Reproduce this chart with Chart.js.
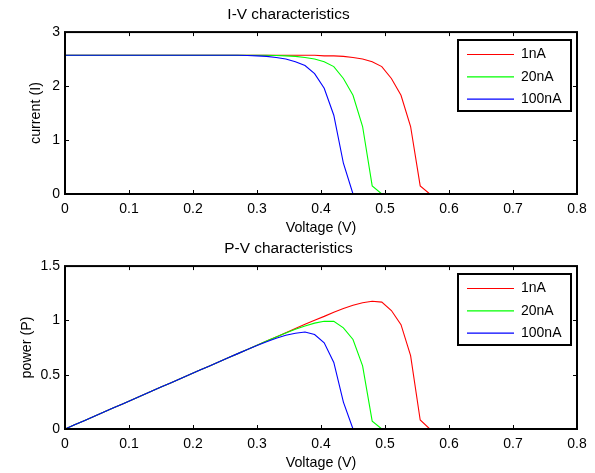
<!DOCTYPE html>
<html>
<head>
<meta charset="utf-8">
<script src="https://cdn.jsdelivr.net/npm/chart.js@4"></script>
<style>
  html, body { margin: 0; padding: 0; background: #fff; }
  #wrap { position: relative; width: 595px; height: 473px; overflow: hidden; }
  .panel { position: absolute; left: 0; width: 595px; }
</style>
</head>
<body>
<div id="wrap">
  <div class="panel" style="top:0;height:238px"><canvas id="ivChart"></canvas></div>
  <div class="panel" style="top:234px;height:239px"><canvas id="pvChart"></canvas></div>
</div>
<script>
// ---- data ----
const voltage = [0, 0.015, 0.03, 0.045, 0.06, 0.075, 0.09, 0.105, 0.12, 0.135,
  0.15, 0.165, 0.18, 0.195, 0.21, 0.225, 0.24, 0.255, 0.27, 0.285,
  0.3, 0.315, 0.33, 0.345, 0.36, 0.375, 0.39, 0.405, 0.42, 0.435,
  0.45, 0.465, 0.48, 0.495, 0.51, 0.525, 0.54, 0.555, 0.57, 0.585,
  0.6, 0.615, 0.63, 0.645, 0.66, 0.675, 0.69, 0.705, 0.72, 0.735, 0.75];

const seriesNames = ['1nA', '20nA', '100nA'];
const seriesColors = ['#ff0000', '#00ff00', '#0000ff'];

const current1nA = [2.57, 2.57, 2.57, 2.57, 2.57, 2.57, 2.57, 2.57, 2.57, 2.57,
  2.57, 2.57, 2.57, 2.57, 2.57, 2.57, 2.57, 2.57, 2.57, 2.57,
  2.57, 2.57, 2.57, 2.57, 2.57, 2.57, 2.57, 2.56, 2.56, 2.55,
  2.53, 2.50, 2.45, 2.36, 2.14, 1.83, 1.25, 0.15, 0, 0,
  0, 0, 0, 0, 0, 0, 0, 0, 0, 0, 0];
const current20nA = [2.57, 2.57, 2.57, 2.57, 2.57, 2.57, 2.57, 2.57, 2.57, 2.57,
  2.57, 2.57, 2.57, 2.57, 2.57, 2.57, 2.57, 2.57, 2.57, 2.57,
  2.57, 2.57, 2.565, 2.56, 2.55, 2.53, 2.50, 2.45, 2.36, 2.14,
  1.83, 1.25, 0.15, 0, 0, 0, 0, 0, 0, 0,
  0, 0, 0, 0, 0, 0, 0, 0, 0, 0, 0];
const current100nA = [2.57, 2.57, 2.57, 2.57, 2.57, 2.57, 2.57, 2.57, 2.57, 2.57,
  2.57, 2.57, 2.57, 2.57, 2.57, 2.57, 2.57, 2.57, 2.57, 2.565,
  2.56, 2.55, 2.53, 2.50, 2.45, 2.38, 2.23, 1.96, 1.46, 0.57,
  0, 0, 0, 0, 0, 0, 0, 0, 0, 0,
  0, 0, 0, 0, 0, 0, 0, 0, 0, 0, 0];

const power1nA = [0, 0.039, 0.077, 0.116, 0.154, 0.193, 0.231, 0.270, 0.308, 0.347,
  0.386, 0.424, 0.463, 0.501, 0.540, 0.578, 0.617, 0.655, 0.694, 0.732,
  0.771, 0.810, 0.848, 0.887, 0.925, 0.964, 1.002, 1.037, 1.075, 1.109,
  1.139, 1.163, 1.176, 1.168, 1.091, 0.961, 0.675, 0.083, 0, 0,
  0, 0, 0, 0, 0, 0, 0, 0, 0, 0, 0];
const power20nA = [0, 0.039, 0.077, 0.116, 0.154, 0.193, 0.231, 0.270, 0.308, 0.347,
  0.386, 0.424, 0.463, 0.501, 0.540, 0.578, 0.617, 0.655, 0.694, 0.732,
  0.771, 0.810, 0.846, 0.883, 0.918, 0.949, 0.975, 0.992, 0.991, 0.931,
  0.824, 0.581, 0.072, 0, 0, 0, 0, 0, 0, 0,
  0, 0, 0, 0, 0, 0, 0, 0, 0, 0, 0];
const power100nA = [0, 0.039, 0.077, 0.116, 0.154, 0.193, 0.231, 0.270, 0.308, 0.347,
  0.386, 0.424, 0.463, 0.501, 0.540, 0.578, 0.617, 0.655, 0.694, 0.731,
  0.768, 0.803, 0.835, 0.863, 0.882, 0.893, 0.870, 0.794, 0.613, 0.248,
  0, 0, 0, 0, 0, 0, 0, 0, 0, 0,
  0, 0, 0, 0, 0, 0, 0, 0, 0, 0, 0];

const xTickLabels = ['0', '0.1', '0.2', '0.3', '0.4', '0.5', '0.6', '0.7', '0.8'];
const ivTickLabels = ['0', '1', '2', '3'];
const pvTickLabels = ['0', '0.5', '1', '1.5'];

// ---- shared look ----
const FAMILY = '"Liberation Sans", Arial, Helvetica, sans-serif';
const FONT = { family: FAMILY, size: 14 };
const LABEL_FONT = { family: FAMILY, size: 14.3 };
const TITLE_FONT = { family: FAMILY, size: 15.4, weight: 'normal' };

// box round the axes, inward ticks on all four sides, legend inside top-right
const matlabAxes = {
  id: 'matlabAxes',
  afterDraw(chart) {
    const { ctx, chartArea: a, scales: { x, y } } = chart;
    ctx.save();
    ctx.strokeStyle = '#000';
    ctx.lineWidth = 1;
    ctx.beginPath();
    x.ticks.forEach(t => {
      const px = Math.round(x.getPixelForValue(t.value)) + 0.5;
      ctx.moveTo(px, a.top); ctx.lineTo(px, a.top + 4);
      ctx.moveTo(px, a.bottom); ctx.lineTo(px, a.bottom - 4);
    });
    y.ticks.forEach(t => {
      const py = Math.round(y.getPixelForValue(t.value)) + 0.5;
      ctx.moveTo(a.left, py); ctx.lineTo(a.left + 4, py);
      ctx.moveTo(a.right, py); ctx.lineTo(a.right - 4, py);
    });
    ctx.stroke();
    ctx.lineWidth = 2;
    ctx.strokeRect(a.left, a.top, a.right - a.left, a.bottom - a.top);

    // legend
    const boxW = 113, boxH = 71;
    const bx = Math.round(a.right - 6 - boxW), by = Math.round(a.top + 8);
    ctx.fillStyle = '#fff';
    ctx.fillRect(bx, by, boxW, boxH);
    ctx.lineWidth = 2;
    ctx.strokeRect(bx, by, boxW, boxH);
    ctx.font = FONT.size + 'px ' + FONT.family;
    ctx.textAlign = 'left';
    ctx.textBaseline = 'middle';
    chart.data.datasets.forEach((ds, i) => {
      const ry = by + 14.5 + i * 22.3;
      ctx.strokeStyle = ds.borderColor;
      ctx.lineWidth = 1.2;
      ctx.beginPath();
      ctx.moveTo(bx + 9, ry); ctx.lineTo(bx + 56, ry);
      ctx.stroke();
      ctx.fillStyle = '#000';
      ctx.fillText(ds.label, bx + 63, ry);
    });
    ctx.restore();
  }
};

function makeChart(canvasId, title, yTitle, yTitlePad, yMax, yStep, yTicks, values) {
  const datasets = values.map((vals, i) => ({
    label: seriesNames[i],
    data: voltage.map((v, j) => ({ x: v, y: vals[j] })),
    borderColor: seriesColors[i],
    borderWidth: 1.1,
    pointRadius: 0,
    tension: 0,
    fill: false,
    order: 3 - i // blue drawn last, on top
  }));
  return new Chart(document.getElementById(canvasId), {
    type: 'line',
    data: { datasets },
    options: {
      responsive: true,
      maintainAspectRatio: false,
      animation: false,
      layout: { padding: { left: 0, right: 18, top: 0, bottom: 0 } },
      plugins: {
        legend: { display: false },
        tooltip: { enabled: false },
        title: {
          display: true, text: title, color: '#000', font: TITLE_FONT,
          padding: { top: 5.8, bottom: 7.8 }
        }
      },
      scales: {
        x: {
          type: 'linear', min: 0, max: 0.8,
          grid: { display: false, drawTicks: false, tickLength: 0 }, border: { display: false },
          ticks: { stepSize: 0.1, color: '#000', font: FONT, padding: 7, maxRotation: 0,
                   callback: (v, i) => xTickLabels[i] },
          title: { display: true, text: 'Voltage (V)', color: '#000', font: LABEL_FONT,
                   padding: { top: 0, bottom: 1.4 } },
          afterFit: s => { s.height = 44; }
        },
        y: {
          type: 'linear', min: 0, max: yMax,
          grid: { display: false, drawTicks: false, tickLength: 0 }, border: { display: false },
          ticks: { stepSize: yStep, color: '#000', font: FONT, padding: 5,
                   callback: (v, i) => yTicks[i] },
          title: { display: true, text: yTitle, color: '#000', font: LABEL_FONT,
                   padding: { top: yTitlePad, bottom: 0 } },
          afterFit: s => { s.width = 65; }
        }
      }
    },
    plugins: [matlabAxes]
  });
}

makeChart('ivChart', 'I-V characteristics', 'current (I)', 27, 3, 1, ivTickLabels,
  [current1nA, current20nA, current100nA]);
makeChart('pvChart', 'P-V characteristics', 'power (P)', 18, 1.5, 0.5, pvTickLabels,
  [power1nA, power20nA, power100nA]);
</script>
</body>
</html>
